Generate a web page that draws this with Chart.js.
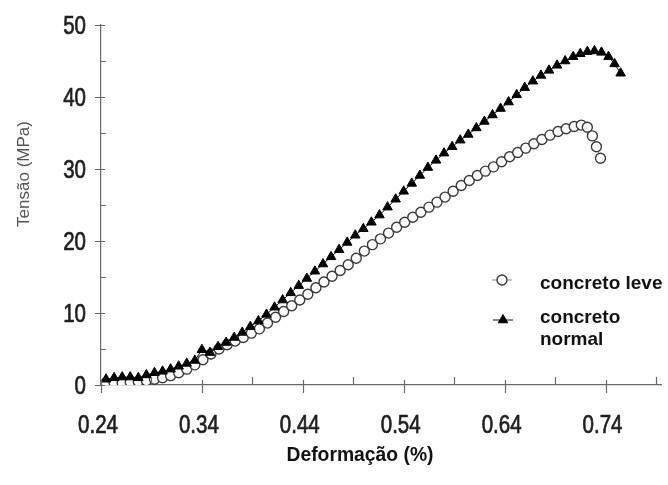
<!DOCTYPE html>
<html>
<head>
<meta charset="utf-8">
<script src="https://cdn.jsdelivr.net/npm/chart.js@4"></script>
<style>
  html, body { margin: 0; padding: 0; background: #fff; }
  #wrap { width: 668px; height: 485px; position: relative; }
</style>
</head>
<body>
<div id="wrap"><canvas id="stressChart" width="668" height="485"></canvas></div>
<script>
const xTicks = [0.24, 0.34, 0.44, 0.54, 0.64, 0.74];
const xMinorTicks = [0.29, 0.39, 0.49, 0.59, 0.69, 0.79];
const yTicks = [0, 10, 20, 30, 40, 50];
const yMinorTicks = [5, 15, 25, 35, 45];

const seriesNames = ["concreto leve", ["concreto", "normal"]];

// concreto leve (open circles)
const leveStrain = [
  0.245, 0.253, 0.261, 0.269, 0.277, 0.285, 0.293, 0.301, 0.309, 0.317,
  0.325, 0.333, 0.341, 0.349, 0.357, 0.365, 0.373, 0.381, 0.389, 0.397,
  0.405, 0.413, 0.421, 0.429, 0.437, 0.445, 0.453, 0.461, 0.469, 0.477,
  0.485, 0.493, 0.501, 0.509, 0.517, 0.525, 0.533, 0.541, 0.549, 0.557,
  0.565, 0.573, 0.581, 0.589, 0.597, 0.605, 0.613, 0.621, 0.629, 0.637,
  0.645, 0.653, 0.661, 0.669, 0.677, 0.685, 0.693, 0.701, 0.709, 0.716,
  0.722, 0.727, 0.731, 0.735,
];
const leveStress = [
  0.3, 0.3, 0.3, 0.4, 0.5, 0.6, 0.8, 1.0, 1.3, 1.7,
  2.2, 2.8, 3.5, 4.3, 5.0, 5.6, 6.1, 6.6, 7.2, 7.8,
  8.6, 9.4, 10.2, 11.0, 11.8, 12.6, 13.5, 14.3, 15.1, 15.9,
  16.7, 17.6, 18.6, 19.5, 20.3, 21.1, 21.9, 22.6, 23.3, 24.0,
  24.7, 25.4, 26.1, 26.9, 27.7, 28.4, 29.1, 29.7, 30.3, 31.0,
  31.7, 32.3, 32.9, 33.5, 34.1, 34.7, 35.2, 35.6, 35.9, 36.1,
  35.8, 34.6, 33.1, 31.5,
];

// concreto normal (filled triangles)
const normalStrain = [
  0.245, 0.253, 0.261, 0.269, 0.277, 0.285, 0.293, 0.301, 0.309, 0.317,
  0.325, 0.333, 0.340, 0.348, 0.356, 0.364, 0.372, 0.380, 0.388, 0.396,
  0.404, 0.412, 0.420, 0.428, 0.436, 0.444, 0.452, 0.460, 0.468, 0.476,
  0.484, 0.492, 0.500, 0.508, 0.516, 0.524, 0.532, 0.540, 0.548, 0.556,
  0.564, 0.572, 0.580, 0.588, 0.596, 0.604, 0.612, 0.620, 0.628, 0.636,
  0.644, 0.652, 0.660, 0.668, 0.676, 0.684, 0.692, 0.700, 0.708, 0.715,
  0.722, 0.729, 0.736, 0.743, 0.749, 0.755,
];
const normalStress = [
  0.8, 1.0, 1.1, 1.1, 1.0, 1.4, 1.7, 1.9, 2.2, 2.6,
  3.0, 3.4, 4.9, 4.5, 5.3, 5.9, 6.6, 7.3, 8.1, 8.9,
  9.8, 10.8, 11.8, 12.8, 13.8, 14.8, 15.8, 16.8, 17.8, 18.8,
  19.8, 20.8, 21.7, 22.6, 23.6, 24.7, 25.8, 26.9, 28.0, 29.1,
  30.2, 31.2, 32.2, 33.1, 34.0, 34.8, 35.7, 36.6, 37.5, 38.4,
  39.3, 40.3, 41.3, 42.2, 43.0, 43.7, 44.4, 45.0, 45.6, 46.0,
  46.3, 46.4, 46.2, 45.6, 44.6, 43.3,
];

const toPoints = (xs, ys) => xs.map((x, i) => ({ x, y: ys[i] }));
const axisColor = "#6a6a6a";
const labelFont = '25px "Liberation Sans", Arial, sans-serif';

// condensed, slightly heavy text, like Arial Narrow
function narrowText(ctx, text, x, y, align) {
  ctx.save();
  ctx.translate(x, y);
  ctx.scale(0.82, 1);
  ctx.textAlign = align;
  ctx.lineWidth = 0.7;
  ctx.strokeText(text, 0, 0);
  ctx.fillText(text, 0, 0);
  ctx.restore();
}

// ticks, tick labels, titles and legend drawn on top of the chart
const decorations = {
  id: "decorations",
  afterDraw(chart) {
    const { ctx, scales } = chart;
    const x = scales.x;
    const y = scales.y;
    const x0 = x.left;
    const y0 = y.bottom;
    ctx.save();
    ctx.strokeStyle = axisColor;
    ctx.lineWidth = 1.2;
    ctx.beginPath();
    xTicks.forEach((v) => {
      const px = Math.round(x.getPixelForValue(v)) + 0.5;
      ctx.moveTo(px, y0 - 5);
      ctx.lineTo(px, y0 + 8);
    });
    xMinorTicks.forEach((v) => {
      const px = Math.round(x.getPixelForValue(v)) + 0.5;
      ctx.moveTo(px, y0 - 8);
      ctx.lineTo(px, y0);
    });
    yTicks.forEach((v) => {
      const py = Math.round(y.getPixelForValue(v)) + 0.5;
      ctx.moveTo(x0 - 6, py);
      ctx.lineTo(x0 + 4, py);
    });
    yMinorTicks.forEach((v) => {
      const py = Math.round(y.getPixelForValue(v)) + 0.5;
      ctx.moveTo(x0, py);
      ctx.lineTo(x0 + 5, py);
    });
    ctx.stroke();

    // tick labels
    ctx.fillStyle = "#1e1e1e";
    ctx.strokeStyle = "#1e1e1e";
    ctx.font = labelFont;
    ctx.textBaseline = "middle";
    xTicks.forEach((v) => {
      narrowText(ctx, v.toFixed(2), x.getPixelForValue(v) - 3, y0 + 41, "center");
    });
    yTicks.forEach((v) => {
      narrowText(ctx, String(v), x0 - 15, y.getPixelForValue(v) + 2, "right");
    });

    // axis titles
    ctx.fillStyle = "#555";
    ctx.font = '17px "Liberation Sans", Arial, sans-serif';
    ctx.textAlign = "center";
    ctx.save();
    ctx.translate(24, 174);
    ctx.rotate(-Math.PI / 2);
    ctx.fillText("Tensão (MPa)", 0, 0);
    ctx.restore();

    ctx.fillStyle = "#111";
    ctx.font = 'bold 21px "Liberation Sans", Arial, sans-serif';
    ctx.save();
    ctx.translate(360, 455);
    ctx.scale(0.92, 1);
    ctx.fillText("Deformação (%)", 0, 0);
    ctx.restore();

    // legend
    const rows = [
      { cx: 502, cy: 280, ty: [284] },
      { cx: 503, cy: 320, ty: [318, 340] },
    ];
    ctx.font = 'bold 19px "Liberation Sans", Arial, sans-serif';
    ctx.textAlign = "left";
    chart.data.datasets.forEach((ds, i) => {
      const r = rows[i];
      ctx.strokeStyle = ds.borderColor;
      ctx.lineWidth = 1;
      ctx.beginPath();
      ctx.moveTo(r.cx - 10, r.cy);
      ctx.lineTo(r.cx + 10, r.cy);
      ctx.stroke();
      ctx.fillStyle = ds.pointBackgroundColor;
      ctx.strokeStyle = ds.pointBorderColor;
      ctx.lineWidth = ds.pointBorderWidth;
      Chart.helpers.drawPoint(ctx, {
        pointStyle: ds.pointStyle,
        radius: ds.pointRadius,
        borderWidth: ds.pointBorderWidth,
        rotation: 0,
      }, r.cx, r.cy);
      ctx.fillStyle = "#111";
      const lines = [].concat(seriesNames[i]);
      lines.forEach((t, k) => ctx.fillText(t, 540, r.ty[k]));
    });
    ctx.restore();
  },
};

new Chart(document.getElementById("stressChart"), {
  type: "scatter",
  data: {
    datasets: [
      {
        label: "concreto leve",
        data: toPoints(leveStrain, leveStress),
        showLine: true,
        borderColor: "#8a8a8a",
        borderWidth: 1,
        pointStyle: "circle",
        pointRadius: 5,
        pointBorderWidth: 1.4,
        pointBorderColor: "#3a3a3a",
        pointBackgroundColor: "#ffffff",
        order: 2,
      },
      {
        label: "concreto normal",
        data: toPoints(normalStrain, normalStress),
        showLine: true,
        borderColor: "#111",
        borderWidth: 1,
        pointStyle: "triangle",
        pointRadius: 5.5,
        pointBorderWidth: 1,
        pointBorderColor: "#000",
        pointBackgroundColor: "#000",
        order: 1,
      },
    ],
  },
  options: {
    responsive: false,
    animation: false,
    layout: { padding: { top: 25, right: 0, left: 0, bottom: 0 } },
    plugins: {
      legend: { display: false },
      tooltip: { enabled: false },
    },
    scales: {
      x: {
        type: "linear",
        min: 0.24,
        max: 0.7955,
        afterBuildTicks: (scale) => {
          scale.ticks = xTicks.map((value) => ({ value }));
        },
        afterFit: (scale) => {
          scale.height = 100;
        },
        grid: { display: false, drawTicks: false },
        border: { display: true, color: axisColor, width: 1.2 },
        ticks: { display: false },
      },
      y: {
        type: "linear",
        min: 0,
        max: 50,
        afterBuildTicks: (scale) => {
          scale.ticks = yTicks.map((value) => ({ value }));
        },
        afterFit: (scale) => {
          scale.width = 101;
        },
        grid: { display: false, drawTicks: false },
        border: { display: true, color: axisColor, width: 1.2 },
        ticks: { display: false },
      },
    },
  },
  plugins: [decorations],
});
</script>
</body>
</html>
